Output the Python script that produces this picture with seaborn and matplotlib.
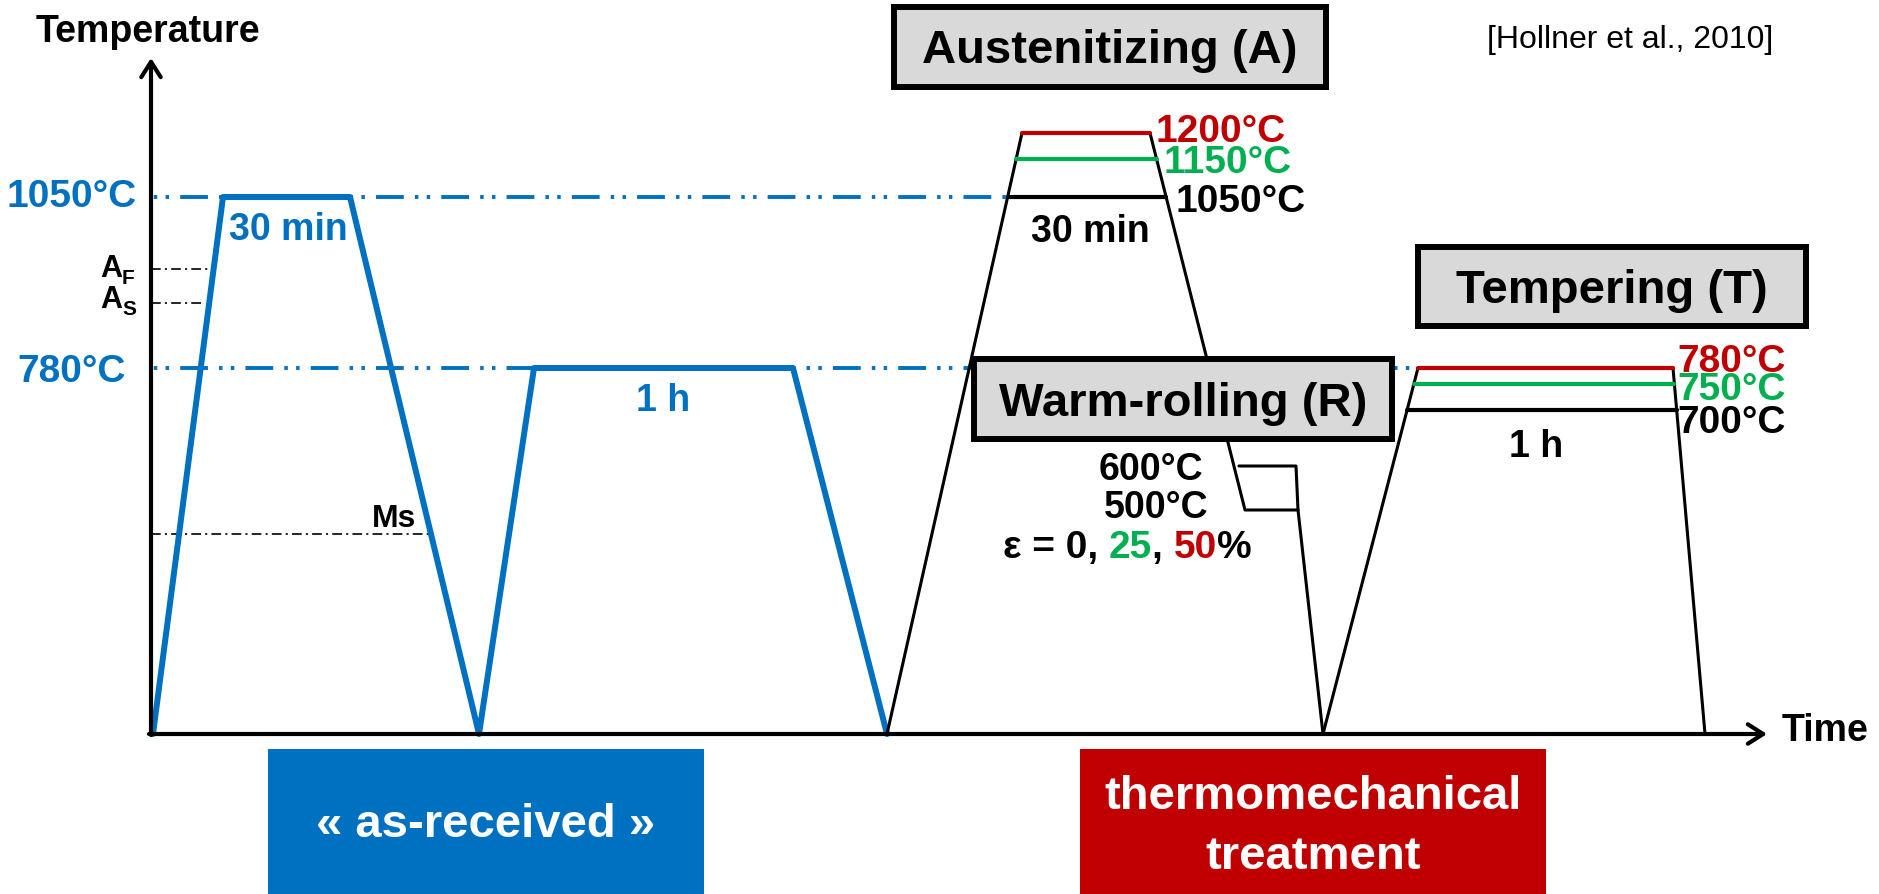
import numpy as np
import matplotlib
matplotlib.use("Agg")
import matplotlib.pyplot as plt
from matplotlib.patches import Rectangle
import seaborn as sns

# schematic time / temperature levels (arbitrary units)
asrec_time = [0.2, 7.2, 19.9, 32.8, 38.3, 64.2, 73.6]
asrec_temp = [0, 53.7, 53.7, 0, 36.6, 36.6, 0]

aust_time = [73.6, 87.1, 99.9, 109.4, 114.7, 117.2]
aust_temp = [0, 60.1, 60.1, 22.4, 22.4, 0]

temper_time = [117.2, 126.7, 152.2, 155.4]
temper_temp = [0, 36.6, 36.6, 0]

# hold temperatures
aust_levels = [60.1, 57.5, 53.7]
aust_labels = ["1200°C", "1150°C", "1050°C"]
temper_levels = [36.6, 35.0, 32.4]
temper_labels = ["780°C", "750°C", "700°C"]
level_colors = ["#c00000", "#00b050", "black"]

roll_levels = [26.8, 22.4]
roll_labels = ["600°C", "500°C"]
roll_end = [114.5, 114.7]

# reference lines (as-received treatment)
ref_levels = [53.7, 36.6]
ref_labels = ["1050°C", "780°C"]
ref_end = [95.7, 126.7]

# transformation temperatures
trans_levels = [46.5, 43.1, 20.0]

BLUE = "#0070c0"
RED = "#c00000"
GREEN = "#00b050"
GREY = "#d9d9d9"

sns.set_theme(style="white")
plt.rcParams["font.family"] = ["Liberation Sans", "DejaVu Sans"]
plt.rcParams["text.color"] = "black"
plt.rcParams["lines.scale_dashes"] = False

fig = plt.figure(figsize=(18.79, 8.94), dpi=100)
ax = fig.add_axes([0, 0, 1, 1])
ax.set_xlim(-15.1, 172.8)
ax.set_ylim(-16.0, 73.4)
ax.axis("off")

# reference dash-dot-dot lines
blue_dash = (26, (20, 8, 2.5, 6, 2.5, 8))
for lev, end in zip(ref_levels, ref_end):
    ax.plot([0, end], [lev, lev], color=BLUE, lw=2.8, linestyle=blue_dash, zorder=1)

# transformation temperature guides
black_dash = (0, (7, 3, 1.5, 3))
af_end = np.interp(trans_levels[0], asrec_temp[:2], asrec_time[:2]) - 0.6
as_end = np.interp(trans_levels[1], asrec_temp[:2], asrec_time[:2]) - 0.6
ms_end = np.interp(trans_levels[2], asrec_temp[3:1:-1], asrec_time[3:1:-1]) - 0.3
for lev, end in zip(trans_levels, [af_end, as_end, ms_end]):
    ax.plot([0, end], [lev, lev], color="black", lw=1.2, linestyle=black_dash, zorder=1)

# as-received cycle
sns.lineplot(x=asrec_time, y=asrec_temp, sort=False, estimator=None,
             color=BLUE, lw=4.3, ax=ax, zorder=3)

# thermomechanical cycle
sns.lineplot(x=aust_time, y=aust_temp, sort=False, estimator=None,
             color="black", lw=2.2, ax=ax, zorder=3)
sns.lineplot(x=temper_time, y=temper_temp, sort=False, estimator=None,
             color="black", lw=2.2, ax=ax, zorder=3)

# austenitizing holds
for lev, col in zip(aust_levels, level_colors):
    x0 = np.interp(lev, aust_temp[:2], aust_time[:2])
    x1 = np.interp(lev, aust_temp[3:1:-1], aust_time[3:1:-1])
    ax.plot([x0, x1], [lev, lev], color=col, lw=3, zorder=4)

# tempering holds
for lev, col in zip(temper_levels, level_colors):
    x0 = np.interp(lev, temper_temp[:2], temper_time[:2])
    x1 = np.interp(lev, temper_temp[3:1:-1], temper_time[3:1:-1])
    ax.plot([x0, x1], [lev, lev], color=col, lw=3, zorder=4)

# warm-rolling 600°C branch
x_desc = np.interp(roll_levels[0], aust_temp[3:1:-1], aust_time[3:1:-1]) + 0.5
ax.plot([x_desc, roll_end[0], roll_end[1]], [roll_levels[0], roll_levels[0], roll_levels[1]],
        color="black", lw=2.2, zorder=3)

# axes arrows
arrow_kw = dict(arrowstyle="->,head_length=0.55,head_width=0.35", lw=3, color="black",
                shrinkA=0, shrinkB=0, mutation_scale=20)
ax.annotate("", xy=(0, 67.6), xytext=(0, -0.1), arrowprops=arrow_kw, zorder=6)
ax.annotate("", xy=(161.6, 0), xytext=(-0.2, 0), arrowprops=arrow_kw, zorder=6)
ax.text(-0.3, 69.2, "Temperature", ha="center", va="baseline", fontsize=27, fontweight="bold")
ax.text(163.1, 0.3, "Time", ha="left", va="center", fontsize=27, fontweight="bold")

# as-received labels
ax.text(-1.4, 52.7, ref_labels[0], ha="right", va="baseline", fontsize=28,
        fontweight="bold", color=BLUE)
ax.text(-2.5, 35.2, ref_labels[1], ha="right", va="baseline", fontsize=28,
        fontweight="bold", color=BLUE)
ax.text(13.7, 49.4, "30 min", ha="center", va="baseline", fontsize=27, fontweight="bold", color=BLUE)
ax.text(51.2, 32.3, "1 h", ha="center", va="baseline", fontsize=27, fontweight="bold", color=BLUE)
ax.text(-2.9, 45.7, "A", ha="right", va="baseline", fontsize=22, fontweight="bold")
ax.text(-2.9, 45.0, "F", ha="left", va="baseline", fontsize=15, fontweight="bold")
ax.text(-2.9, 42.6, "A", ha="right", va="baseline", fontsize=22, fontweight="bold")
ax.text(-2.9, 41.9, "S", ha="left", va="baseline", fontsize=15, fontweight="bold")
ax.text(24.3, 20.7, "Ms", ha="center", va="baseline", fontsize=23, fontweight="bold")

# austenitizing labels
for lab, col, x, y in zip(aust_labels, level_colors, [100.4, 101.2, 102.4], [59.2, 56.1, 52.2]):
    ax.text(x, y, lab, ha="left", va="baseline", fontsize=28, fontweight="bold", color=col)
ax.text(93.9, 49.2, "30 min", ha="center", va="baseline", fontsize=27, fontweight="bold")

# tempering labels
for lab, col, y in zip(temper_labels, level_colors, [36.2, 33.4, 30.1]):
    ax.text(152.6, y, lab, ha="left", va="baseline", fontsize=28, fontweight="bold", color=col)
ax.text(138.5, 27.7, "1 h", ha="center", va="baseline", fontsize=27, fontweight="bold")

# warm-rolling labels
ax.text(105.2, 25.4, roll_labels[0], ha="right", va="baseline", fontsize=27, fontweight="bold")
ax.text(105.7, 21.6, roll_labels[1], ha="right", va="baseline", fontsize=27, fontweight="bold")
eps_kw = dict(fontsize=28, fontweight="bold", va="bottom", ha="left")
t1 = ax.text(85.2, 17.6, "ε = 0, ", fontsize=28, fontweight="bold", va="baseline", ha="left")
t2 = ax.annotate("25", xy=(1, 0), xycoords=t1, color=GREEN, **eps_kw)
t3 = ax.annotate(", ", xy=(1, 0), xycoords=t2, **eps_kw)
t4 = ax.annotate("50", xy=(1, 0), xycoords=t3, color=RED, **eps_kw)
ax.annotate("%", xy=(1, 0), xycoords=t4, **eps_kw)

# title boxes
boxes = [((74.3, 64.7), 43.2, 8.0, "Austenitizing (A)", (95.9, 67.1)),
         ((126.7, 40.8), 38.8, 7.9, "Tempering (T)", (146.1, 43.1)),
         ((82.3, 29.5), 41.8, 8.0, "Warm-rolling (R)", (103.2, 31.8))]
for xy, w, h, lab, pos in boxes:
    ax.add_patch(Rectangle(xy, w, h, fc=GREY, ec="black", lw=4.3, zorder=5))
    ax.text(pos[0], pos[1], lab, ha="center", va="baseline", fontsize=34,
            fontweight="bold", zorder=6)

ax.text(147.9, 68.6, "[Hollner et al., 2010]", ha="center", va="baseline", fontsize=23)

# bottom category boxes
ax.add_patch(Rectangle((11.7, -17), 43.6, 15.5, fc=BLUE, ec="none", zorder=5))
ax.text(33.5, -9.1, "« as-received »", ha="center", va="center", fontsize=34,
        fontweight="bold", color="white", zorder=6)
ax.add_patch(Rectangle((92.9, -17), 46.6, 15.5, fc=RED, ec="none", zorder=5))
ax.text(116.2, -6.3, "thermomechanical", ha="center", va="center", fontsize=34,
        fontweight="bold", color="white", zorder=6)
ax.text(116.2, -12.3, "treatment", ha="center", va="center", fontsize=34,
        fontweight="bold", color="white", zorder=6)

fig.savefig("out.png", dpi=100)
